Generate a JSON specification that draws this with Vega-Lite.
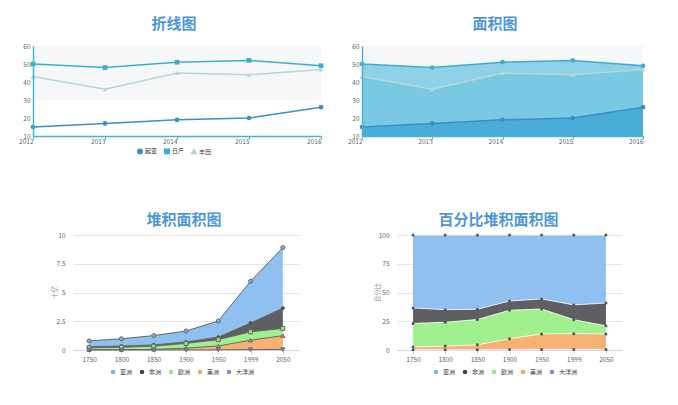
{
  "$schema": "https://vega.github.io/schema/vega-lite/v6.json",
  "background": "white",
  "padding": {"left": 18, "top": 17, "right": 0, "bottom": 0},
  "config": {
    "font": "Noto Sans CJK SC",
    "view": {"stroke": null},
    "title": {"color": "#4f96d8", "fontSize": 15, "fontWeight": "bold", "anchor": "middle", "font": "Noto Sans CJK SC"},
    "axis": {"labelFontSize": 6.5, "labelColor": "#666666", "titleFontSize": 6.5, "titleColor": "#999999", "titleFontWeight": "normal", "labelFont": "Noto Sans CJK SC"},
    "legend": {"labelFontSize": 6, "labelColor": "#333333", "symbolSize": 20, "columnPadding": 3, "labelOffset": 2, "padding": 0, "title": null, "direction": "horizontal", "orient": "none"}
  },
  "datasets": {
    "cars": [
      {"year": "2012", "brand": "日产", "v": 50}, {"year": "2013", "brand": "日产", "v": 48}, {"year": "2014", "brand": "日产", "v": 51}, {"year": "2015", "brand": "日产", "v": 52}, {"year": "2016", "brand": "日产", "v": 49},
      {"year": "2012", "brand": "丰田", "v": 43}, {"year": "2013", "brand": "丰田", "v": 36}, {"year": "2014", "brand": "丰田", "v": 45}, {"year": "2015", "brand": "丰田", "v": 44}, {"year": "2016", "brand": "丰田", "v": 47},
      {"year": "2012", "brand": "起亚", "v": 15}, {"year": "2013", "brand": "起亚", "v": 17}, {"year": "2014", "brand": "起亚", "v": 19}, {"year": "2015", "brand": "起亚", "v": 20}, {"year": "2016", "brand": "起亚", "v": 26}
    ],
    "pop": [
      {"year": "1750", "c": "亚洲", "k": 5, "v": 0.502}, {"year": "1800", "c": "亚洲", "k": 5, "v": 0.635}, {"year": "1850", "c": "亚洲", "k": 5, "v": 0.809}, {"year": "1900", "c": "亚洲", "k": 5, "v": 0.947}, {"year": "1950", "c": "亚洲", "k": 5, "v": 1.402}, {"year": "1999", "c": "亚洲", "k": 5, "v": 3.634}, {"year": "2050", "c": "亚洲", "k": 5, "v": 5.268},
      {"year": "1750", "c": "非洲", "k": 4, "v": 0.106}, {"year": "1800", "c": "非洲", "k": 4, "v": 0.107}, {"year": "1850", "c": "非洲", "k": 4, "v": 0.111}, {"year": "1900", "c": "非洲", "k": 4, "v": 0.133}, {"year": "1950", "c": "非洲", "k": 4, "v": 0.221}, {"year": "1999", "c": "非洲", "k": 4, "v": 0.767}, {"year": "2050", "c": "非洲", "k": 4, "v": 1.766},
      {"year": "1750", "c": "欧洲", "k": 3, "v": 0.163}, {"year": "1800", "c": "欧洲", "k": 3, "v": 0.203}, {"year": "1850", "c": "欧洲", "k": 3, "v": 0.276}, {"year": "1900", "c": "欧洲", "k": 3, "v": 0.408}, {"year": "1950", "c": "欧洲", "k": 3, "v": 0.547}, {"year": "1999", "c": "欧洲", "k": 3, "v": 0.729}, {"year": "2050", "c": "欧洲", "k": 3, "v": 0.628},
      {"year": "1750", "c": "美洲", "k": 2, "v": 0.018}, {"year": "1800", "c": "美洲", "k": 2, "v": 0.031}, {"year": "1850", "c": "美洲", "k": 2, "v": 0.054}, {"year": "1900", "c": "美洲", "k": 2, "v": 0.156}, {"year": "1950", "c": "美洲", "k": 2, "v": 0.339}, {"year": "1999", "c": "美洲", "k": 2, "v": 0.818}, {"year": "2050", "c": "美洲", "k": 2, "v": 1.201},
      {"year": "1750", "c": "大洋洲", "k": 1, "v": 0.002}, {"year": "1800", "c": "大洋洲", "k": 1, "v": 0.002}, {"year": "1850", "c": "大洋洲", "k": 1, "v": 0.002}, {"year": "1900", "c": "大洋洲", "k": 1, "v": 0.006}, {"year": "1950", "c": "大洋洲", "k": 1, "v": 0.013}, {"year": "1999", "c": "大洋洲", "k": 1, "v": 0.030}, {"year": "2050", "c": "大洋洲", "k": 1, "v": 0.046}
    ]
  },
  "resolve": {"scale": {"x": "independent", "y": "independent", "color": "independent", "shape": "independent", "fill": "independent"}, "legend": {"color": "independent", "shape": "independent"}},
  "columns": 1,
  "align": "none",
  "spacing": 56,
  "concat": [
    {
      "spacing": 17,
      "resolve": {"scale": {"x": "independent", "y": "independent", "color": "independent", "shape": "independent", "fill": "independent"}, "legend": {"color": "independent", "shape": "independent"}},
      "hconcat": [
        {
          "title": {"text": "折线图", "offset": 11, "dx": 2},
          "width": 298,
          "height": 90,
          "data": {"name": "cars"},
          "layer": [
            {
              "data": {"values": [{"lo": 30, "hi": 60}]},
              "mark": {"type": "rect", "color": "#f6f7f8"},
              "encoding": {
                "x": {"datum": "2012", "type": "ordinal", "scale": {"type": "point", "padding": 0, "range": [10, 298]}},
                "x2": {"datum": "2016"},
                "y": {"field": "lo", "type": "quantitative", "scale": {"domain": [10, 60], "zero": false}, "axis": {"title": null, "values": [10, 20, 30, 40, 50, 60], "grid": false, "ticks": false, "domainColor": "#4bb0d1", "domainWidth": 1.5, "labelPadding": 3, "offset": -10, "zindex": 1}},
                "y2": {"field": "hi"}
              }
            },
            {
              "mark": {"type": "line", "strokeWidth": 1.5},
              "encoding": {
                "x": {"field": "year", "type": "ordinal", "scale": {"type": "point", "padding": 0, "range": [10, 298]}, "axis": {"title": null, "labelAngle": 0, "domainColor": "#4bb0d1", "domainWidth": 1.5, "tickColor": "#4bb0d1", "tickSize": 3, "labelPadding": 2, "zindex": 1}},
                "y": {"field": "v", "type": "quantitative", "scale": {"domain": [10, 60], "zero": false}, "axis": {"title": null, "values": [10, 20, 30, 40, 50, 60], "grid": false, "ticks": false, "domainColor": "#4bb0d1", "domainWidth": 1.5, "labelPadding": 3, "offset": -10, "zindex": 1}},
                "color": {"field": "brand", "type": "nominal", "scale": {"domain": ["起亚", "日产", "丰田"], "range": ["#3a8fc8", "#3aaed0", "#b7d8d3"]}, "legend": {"legendX": 114, "legendY": 102}}
              }
            },
            {
              "mark": {"type": "point", "filled": true, "size": 22, "opacity": 1},
              "encoding": {
                "x": {"field": "year", "type": "ordinal", "scale": {"type": "point", "padding": 0, "range": [10, 298]}, "axis": {"title": null, "labelAngle": 0, "domainColor": "#4bb0d1", "domainWidth": 1.5, "tickColor": "#4bb0d1", "tickSize": 3, "labelPadding": 2, "zindex": 1}},
                "y": {"field": "v", "type": "quantitative", "scale": {"domain": [10, 60], "zero": false}, "axis": {"title": null, "values": [10, 20, 30, 40, 50, 60], "grid": false, "ticks": false, "domainColor": "#4bb0d1", "domainWidth": 1.5, "labelPadding": 3, "offset": -10, "zindex": 1}},
                "color": {"field": "brand", "type": "nominal", "scale": {"domain": ["起亚", "日产", "丰田"], "range": ["#3a8fc8", "#3aaed0", "#b7d8d3"]}, "legend": {"legendX": 114, "legendY": 102}},
                "shape": {"field": "brand", "type": "nominal", "scale": {"domain": ["起亚", "日产", "丰田"], "range": ["circle", "square", "triangle-up"]}, "legend": {"legendX": 114, "legendY": 102}}
              }
            }
          ]
        },
        {
          "title": {"text": "面积图", "offset": 11, "dx": 3},
          "width": 302,
          "height": 90,
          "data": {"name": "cars"},
          "layer": [
            {
              "data": {"values": [{"lo": 30, "hi": 60}]},
              "mark": {"type": "rect", "color": "#f6f7f8"},
              "encoding": {
                "x": {"datum": "2012", "type": "ordinal", "scale": {"type": "point", "padding": 0, "range": [21, 302]}},
                "x2": {"datum": "2016"},
                "y": {"field": "lo", "type": "quantitative", "scale": {"domain": [10, 60], "zero": false}, "axis": {"title": null, "values": [10, 20, 30, 40, 50, 60], "grid": false, "ticks": false, "domainColor": "#4bb0d1", "domainWidth": 1.5, "labelPadding": 3, "offset": -21, "zindex": 1}},
                "y2": {"field": "hi"}
              }
            },
            {
              "mark": {"type": "area", "opacity": 1},
              "encoding": {
                "x": {"field": "year", "type": "ordinal", "scale": {"type": "point", "padding": 0, "range": [21, 302]}, "axis": {"title": null, "labelAngle": 0, "domainColor": "#4bb0d1", "domainWidth": 1.5, "tickColor": "#4bb0d1", "tickSize": 3, "labelPadding": 2, "zindex": 1}},
                "y": {"field": "v", "type": "quantitative", "stack": null, "scale": {"domain": [10, 60], "zero": false}, "axis": {"title": null, "values": [10, 20, 30, 40, 50, 60], "grid": false, "ticks": false, "domainColor": "#4bb0d1", "domainWidth": 1.5, "labelPadding": 3, "offset": -21, "zindex": 1}},
                "fill": {"field": "brand", "type": "nominal", "scale": {"domain": ["起亚", "日产", "丰田"], "range": ["#4aadd7", "#8fd2e8", "#79c9e2"]}, "legend": null}
              }
            },
            {
              "mark": {"type": "line", "strokeWidth": 1.5},
              "encoding": {
                "x": {"field": "year", "type": "ordinal", "scale": {"type": "point", "padding": 0, "range": [21, 302]}, "axis": {"title": null, "labelAngle": 0, "domainColor": "#4bb0d1", "domainWidth": 1.5, "tickColor": "#4bb0d1", "tickSize": 3, "labelPadding": 2, "zindex": 1}},
                "y": {"field": "v", "type": "quantitative", "scale": {"domain": [10, 60], "zero": false}, "axis": {"title": null, "values": [10, 20, 30, 40, 50, 60], "grid": false, "ticks": false, "domainColor": "#4bb0d1", "domainWidth": 1.5, "labelPadding": 3, "offset": -21, "zindex": 1}},
                "color": {"field": "brand", "type": "nominal", "scale": {"domain": ["起亚", "日产", "丰田"], "range": ["#3a8fc8", "#3aaed0", "#b7d8d3"]}, "legend": {"legendX": 123, "legendY": 102}}
              }
            },
            {
              "mark": {"type": "point", "filled": true, "size": 22, "opacity": 1},
              "encoding": {
                "x": {"field": "year", "type": "ordinal", "scale": {"type": "point", "padding": 0, "range": [21, 302]}, "axis": {"title": null, "labelAngle": 0, "domainColor": "#4bb0d1", "domainWidth": 1.5, "tickColor": "#4bb0d1", "tickSize": 3, "labelPadding": 2, "zindex": 1}},
                "y": {"field": "v", "type": "quantitative", "scale": {"domain": [10, 60], "zero": false}, "axis": {"title": null, "values": [10, 20, 30, 40, 50, 60], "grid": false, "ticks": false, "domainColor": "#4bb0d1", "domainWidth": 1.5, "labelPadding": 3, "offset": -21, "zindex": 1}},
                "color": {"field": "brand", "type": "nominal", "scale": {"domain": ["起亚", "日产", "丰田"], "range": ["#3a8fc8", "#3aaed0", "#b7d8d3"]}, "legend": {"legendX": 123, "legendY": 102}},
                "shape": {"field": "brand", "type": "nominal", "scale": {"domain": ["起亚", "日产", "丰田"], "range": ["circle", "circle", "triangle-up"]}, "legend": {"legendX": 123, "legendY": 102}}
              }
            }
          ]
        }
      ]
    },
    {
      "spacing": 62,
      "resolve": {"scale": {"x": "independent", "y": "independent", "color": "independent", "shape": "independent", "fill": "independent"}, "legend": {"color": "independent", "shape": "independent"}},
      "hconcat": [
        {
          "title": {"text": "堆积面积图", "offset": 4, "dx": 23},
          "width": 276,
          "height": 115,
          "data": {"name": "pop"},
          "transform": [{"stack": "v", "groupby": ["year"], "sort": [{"field": "k", "order": "ascending"}], "as": ["v0", "v1"]}],
          "encoding": {
            "x": {"field": "year", "type": "ordinal", "scale": {"type": "point", "padding": 0.5, "range": [50, 276]}, "axis": {"title": null, "labelAngle": 0, "domainColor": "#ccd6eb", "tickColor": "#ccd6eb", "tickSize": 4, "labelPadding": 2}},
            "y": {"field": "v1", "type": "quantitative", "scale": {"domain": [0, 10]}, "axis": {"title": "十亿", "values": [0, 2.5, 5, 7.5, 10], "format": ".1~f", "grid": true, "gridColor": "#e6e6e6", "domain": false, "ticks": false, "labelPadding": 8, "offset": -50, "titleX": -16, "titleY": 57}}
          },
          "layer": [
            {
              "mark": {"type": "area", "fillOpacity": 0.85},
              "encoding": {
                "y2": {"field": "v0"},
                "color": {"field": "c", "type": "nominal", "scale": {"domain": ["亚洲", "非洲", "欧洲", "美洲", "大洋洲"], "range": ["#7cb5ec", "#434348", "#90ed7d", "#f7a35c", "#8085e9"]}, "legend": {"legendX": 87, "legendY": 134, "symbolType": "circle", "symbolOpacity": 1, "columnPadding": 6, "labelOffset": 4, "symbolSize": 20}}
              }
            },
            {
              "mark": {"type": "line", "color": "#666666", "strokeWidth": 1},
              "encoding": {"detail": {"field": "c", "type": "nominal"}}
            },
            {
              "mark": {"type": "point", "filled": true, "size": 16, "opacity": 1, "stroke": "#666666", "strokeWidth": 1},
              "encoding": {
                "fill": {"field": "c", "type": "nominal", "scale": {"domain": ["亚洲", "非洲", "欧洲", "美洲", "大洋洲"], "range": ["#7cb5ec", "#434348", "#90ed7d", "#f7a35c", "#8085e9"]}, "legend": null},
                "shape": {"field": "k", "type": "nominal", "scale": {"domain": [5, 4, 3, 2, 1], "range": ["circle", "diamond", "square", "triangle-up", "triangle-down"]}, "legend": null}
              }
            }
          ]
        },
        {
          "title": {"text": "百分比堆积面积图", "offset": 4, "dx": 7},
          "width": 261,
          "height": 115,
          "data": {"name": "pop"},
          "transform": [{"stack": "v", "groupby": ["year"], "sort": [{"field": "k", "order": "ascending"}], "offset": "normalize", "as": ["v0", "v1"]}],
          "encoding": {
            "x": {"field": "year", "type": "ordinal", "scale": {"type": "point", "padding": 0.5, "range": [36, 261]}, "axis": {"title": null, "labelAngle": 0, "domainColor": "#ccd6eb", "tickColor": "#ccd6eb", "tickSize": 4, "labelPadding": 2}},
            "y": {"field": "v1", "type": "quantitative", "scale": {"domain": [0, 1]}, "axis": {"title": "百分比", "values": [0, 0.25, 0.5, 0.75, 1], "labelExpr": "datum.value * 100", "grid": true, "gridColor": "#e6e6e6", "domain": false, "ticks": false, "labelPadding": 8, "offset": -36, "titleX": -17, "titleY": 57}}
          },
          "layer": [
            {
              "mark": {"type": "area", "fillOpacity": 0.85},
              "encoding": {
                "y2": {"field": "v0"},
                "color": {"field": "c", "type": "nominal", "scale": {"domain": ["亚洲", "非洲", "欧洲", "美洲", "大洋洲"], "range": ["#7cb5ec", "#434348", "#90ed7d", "#f7a35c", "#8085e9"]}, "legend": {"legendX": 72, "legendY": 134, "symbolType": "circle", "symbolOpacity": 1, "columnPadding": 6, "labelOffset": 4, "symbolSize": 20}}
              }
            },
            {
              "mark": {"type": "line", "color": "#ffffff", "strokeWidth": 0.8},
              "encoding": {"detail": {"field": "c", "type": "nominal"}}
            },
            {
              "mark": {"type": "point", "filled": true, "size": 9, "opacity": 1, "color": "#555555"},
              "encoding": {"detail": {"field": "c", "type": "nominal"}}
            }
          ]
        }
      ]
    }
  ]
}
